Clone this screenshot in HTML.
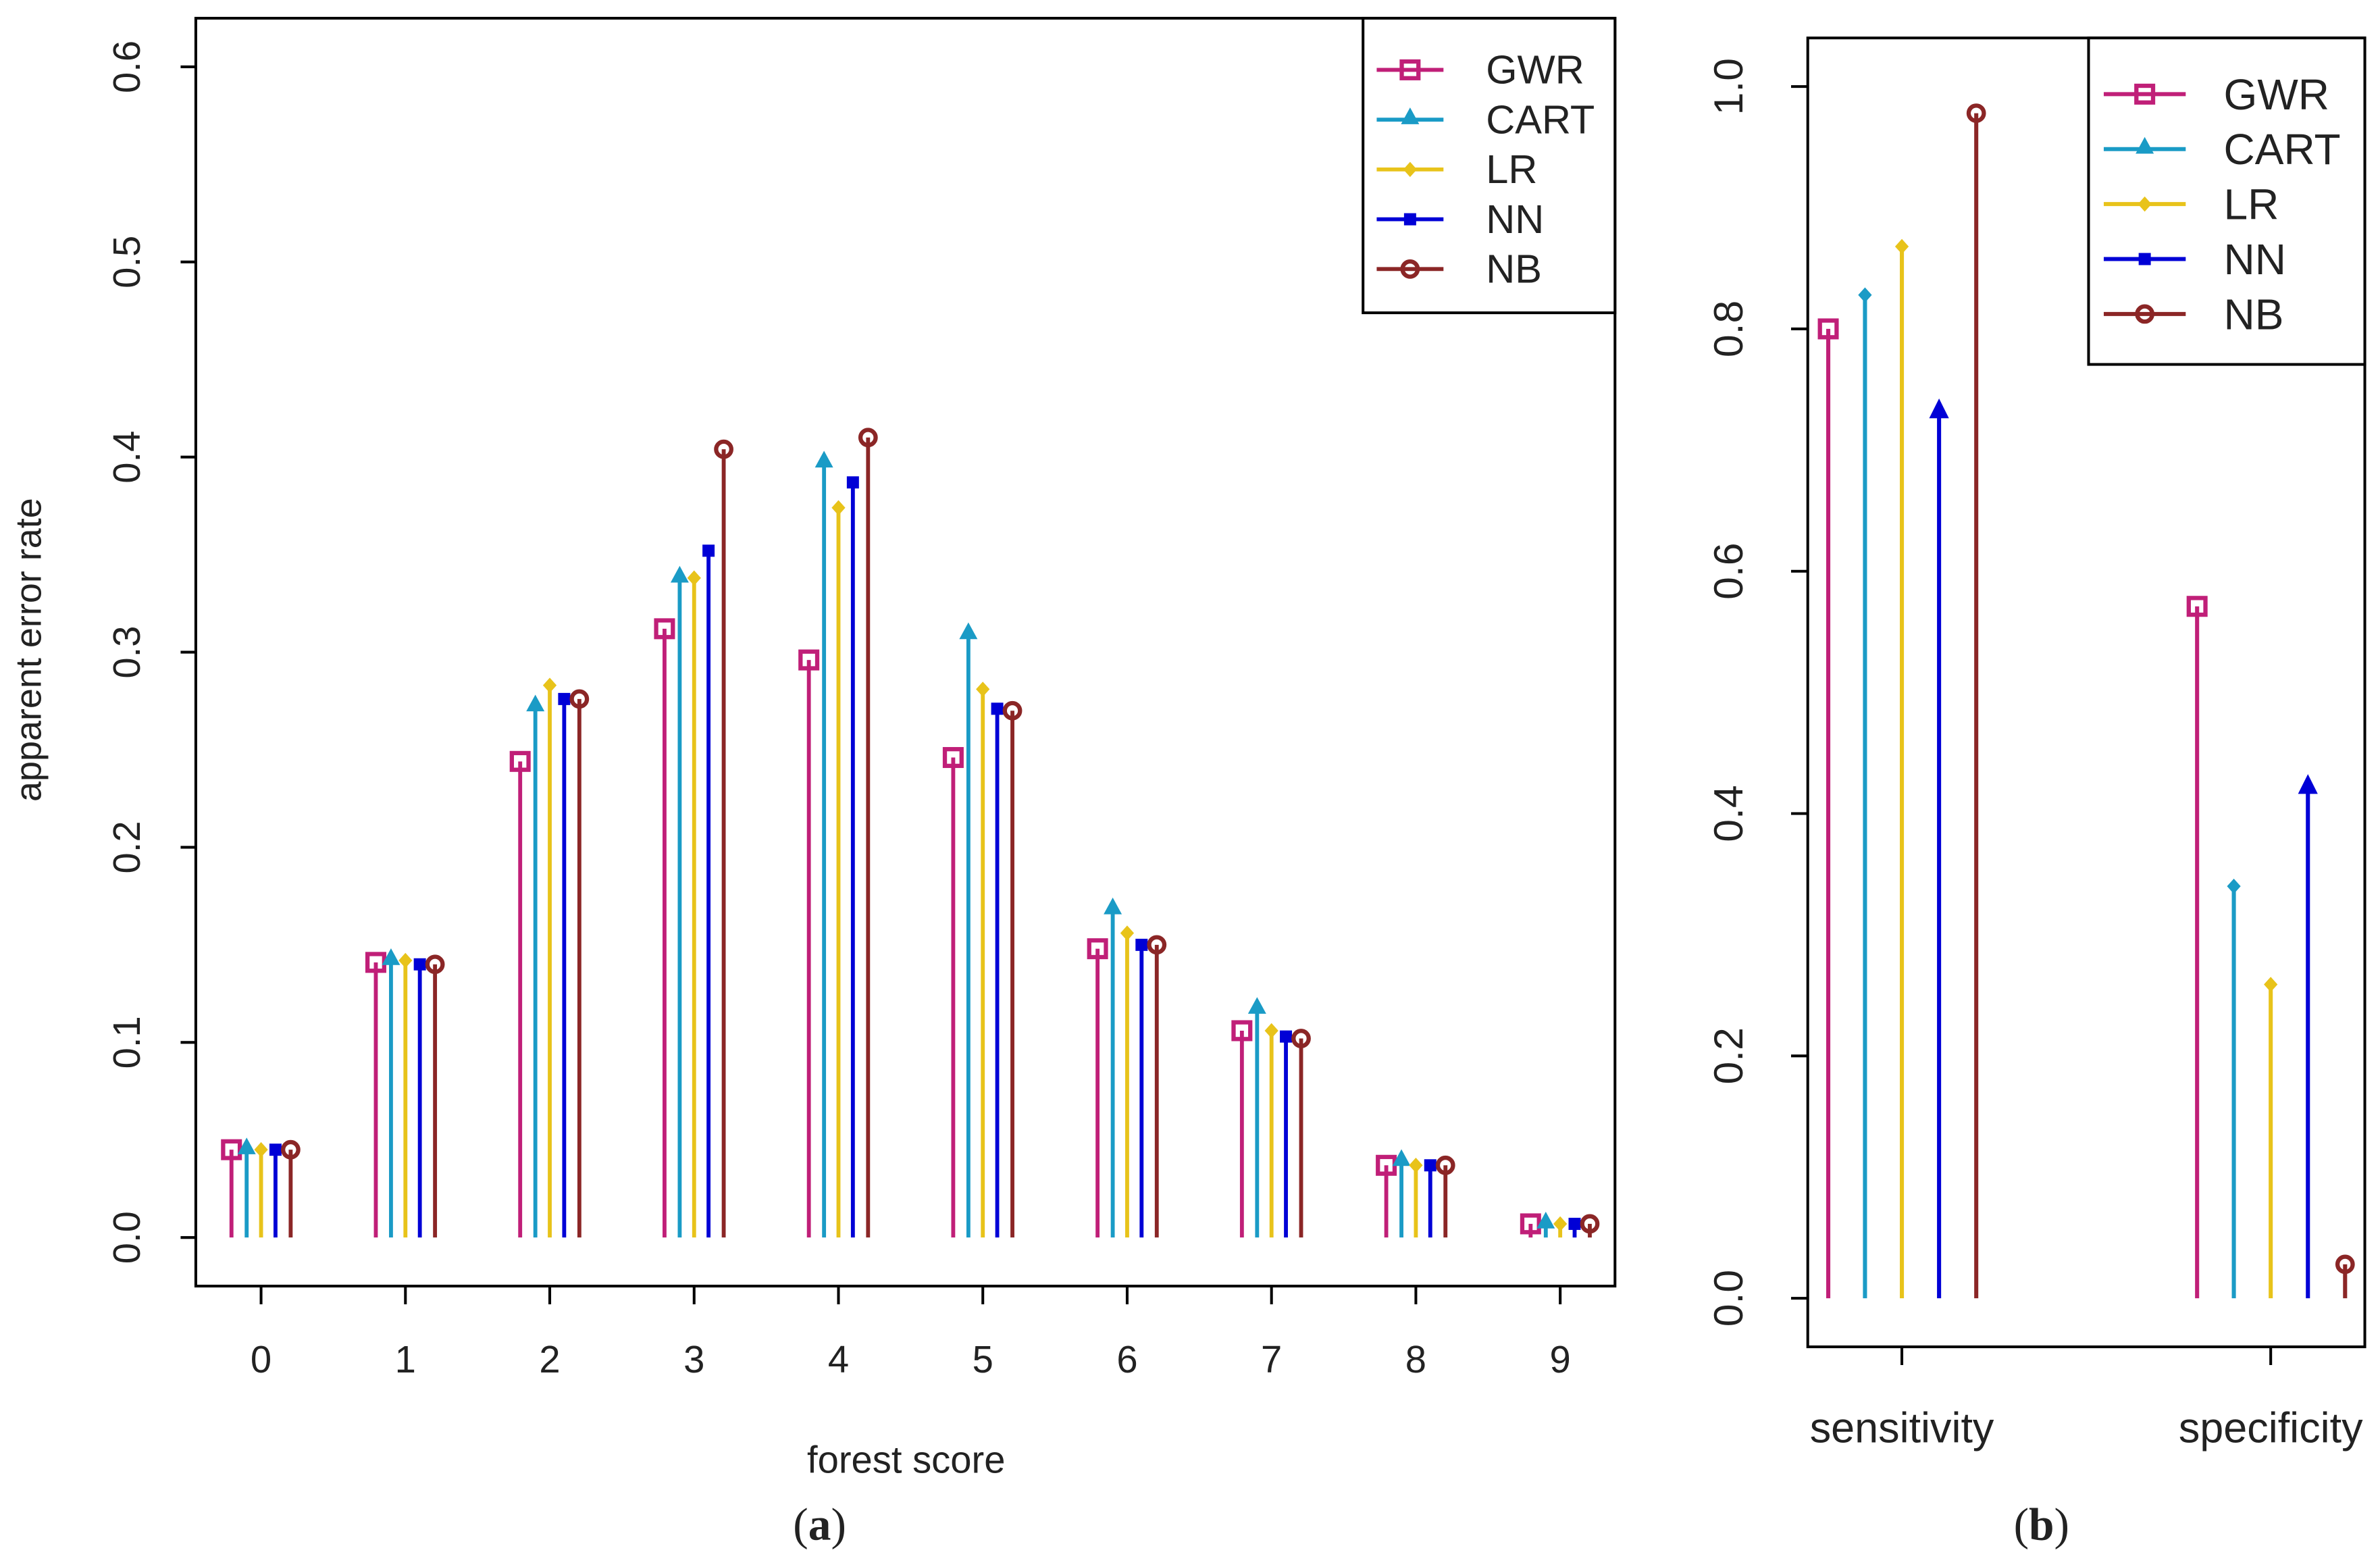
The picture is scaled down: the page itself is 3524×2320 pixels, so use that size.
<!DOCTYPE html>
<html><head><meta charset="utf-8"><style>
html,body{margin:0;padding:0;background:#fff;}
svg{display:block;}
text{font-family:"Liberation Sans",Arial,sans-serif;fill:#222;}
</style></head><body>
<svg id="chart" width="3524" height="2320" viewBox="0 0 1568 1032" preserveAspectRatio="none" xmlns="http://www.w3.org/2000/svg"></svg>
<script>
const seriesNames = ["GWR","CART","LR","NN","NB"];
const seriesColors = ["#c01f78","#1a9bc6","#e8c31a","#0000d6","#8b2626"];
const scoresA = [0,1,2,3,4,5,6,7,8,9];
const gwrA  = [0.045,0.141,0.244,0.312,0.296,0.246,0.148,0.106,0.037,0.007];
const cartA = [0.045,0.142,0.272,0.338,0.397,0.309,0.168,0.117,0.039,0.007];
const lrA   = [0.045,0.142,0.283,0.338,0.374,0.281,0.156,0.106,0.037,0.007];
const nnA   = [0.045,0.140,0.276,0.352,0.387,0.271,0.150,0.103,0.037,0.007];
const nbA   = [0.045,0.140,0.276,0.404,0.410,0.270,0.150,0.102,0.037,0.007];
const ticksA = [0,0.1,0.2,0.3,0.4,0.5,0.6];
const categoriesB = ["sensitivity","specificity"];
const gwrB  = [0.800,0.571];
const cartB = [0.828,0.340];
const lrB   = [0.868,0.259];
const nnB   = [0.730,0.420];
const nbB   = [0.978,0.028];
const ticksB = [0,0.2,0.4,0.6,0.8,1.0];

const NS="http://www.w3.org/2000/svg";
const svg=document.getElementById('chart');
function mk(tag,attrs,parent){const e=document.createElementNS(NS,tag);for(const k in attrs)e.setAttribute(k,attrs[k]);(parent||svg).appendChild(e);return e;}

const xA=v=>172+v*95.1;
const yA=v=>815-v*1285;
const xB=i=>1253+i*243;
const yB=v=>855-v*798;

function marker(g,type,x,y,c){
  let m;
  if(type===0){m=mk('rect',{x:x-5.5,y:y-5.5,width:11,height:11,fill:'none',stroke:c,'stroke-width':2.8},g);}
  else if(type===1){m=mk('polygon',{points:`${x},${y-8} ${x-6},${y+3} ${x+6},${y+3}`,fill:c},g);}
  else if(type===2){m=mk('polygon',{points:`${x},${y-5} ${x+4.5},${y} ${x},${y+5} ${x-4.5},${y}`,fill:c},g);}
  else if(type===3){m=mk('rect',{x:x-4,y:y-4,width:8,height:8,fill:c},g);}
  else if(type===5){m=mk('polygon',{points:`${x},${y-10} ${x-6.5},${y+3} ${x+6.5},${y+3}`,fill:c},g);}
  else {m=mk('circle',{cx:x,cy:y,r:5,fill:'none',stroke:c,'stroke-width':2.8},g);}
  return m;
}

// ---------- Panel A ----------
const gA=mk('g',{});


const frameA=mk('rect',{x:129,y:12,width:935,height:835,fill:'none',stroke:'#000','stroke-width':1.8},gA);


ticksA.forEach(t=>{
  const y=yA(t);
  const l=mk('line',{x1:129,x2:119,y1:y,y2:y,stroke:'#000','stroke-width':1.8},gA);
  
  
  const tx=mk('text',{x:0,y:0,'font-size':25,'text-anchor':'middle',transform:`translate(92,${y}) rotate(-90)`},gA);
  tx.textContent=t.toFixed(1);
  
  
});
scoresA.forEach(s=>{
  const x=xA(s);
  const l=mk('line',{x1:x,x2:x,y1:847,y2:859,stroke:'#000','stroke-width':1.8},gA);
  
  
  const tx=mk('text',{x:x,y:904,'font-size':25,'text-anchor':'middle'},gA);
  tx.textContent=String(s);
  
  
});
const ytA=mk('text',{x:0,y:0,'font-size':24,'text-anchor':'middle',transform:'translate(27,428) rotate(-90)'},gA);
ytA.textContent='apparent error rate';


const xtA=mk('text',{x:597,y:970,'font-size':25,'text-anchor':'middle'},gA);
xtA.textContent='forest score';


const dataA=[gwrA,cartA,lrA,nnA,nbA];
const offA=[-19.5,-9.5,0,9.5,19.5];
dataA.forEach((arr,si)=>{
  const g=mk('g',{},gA);
  
  
  arr.forEach((v,i)=>{
    const x=xA(scoresA[i])+offA[si];
    const ln=mk('line',{x1:x,x2:x,y1:yA(0),y2:yA(v),stroke:seriesColors[si],'stroke-width':2.6},g);
    
    
    const m=marker(g,si===4?4:si,x,yA(v),seriesColors[si]);
    
    
  });
});
const lgA=mk('g',{},gA);


mk('rect',{x:898,y:12,width:166,height:194,fill:'#fff',stroke:'#000','stroke-width':1.8},lgA);
seriesNames.forEach((n,i)=>{
  const y=46+i*32.8;
  const e=mk('g',{},lgA);
  
  
  mk('line',{x1:907,x2:951,y1:y,y2:y,stroke:seriesColors[i],'stroke-width':2.6},e);
  marker(e,i===4?4:i,929,y,seriesColors[i]);
  const t=mk('text',{x:979,y:y+9,'font-size':26.5},e);
  t.textContent=n;
});
const capA=mk('text',{x:540,y:1014,'font-size':30,'text-anchor':'middle',style:'font-family:"Liberation Serif",serif'});
capA.innerHTML='(<tspan font-weight="bold">a</tspan>)';



// ---------- Panel B ----------
const gB=mk('g',{});


const frameB=mk('rect',{x:1191,y:25,width:367,height:862,fill:'none',stroke:'#000','stroke-width':1.8},gB);


ticksB.forEach(t=>{
  const y=yB(t);
  const l=mk('line',{x1:1191,x2:1180,y1:y,y2:y,stroke:'#000','stroke-width':1.8},gB);
  
  
  const tx=mk('text',{x:0,y:0,'font-size':27,'text-anchor':'middle',transform:`translate(1148,${y}) rotate(-90)`},gB);
  tx.textContent=t.toFixed(1);
  
  
});
categoriesB.forEach((c,i)=>{
  const x=xB(i);
  const l=mk('line',{x1:x,x2:x,y1:887,y2:899,stroke:'#000','stroke-width':1.8},gB);
  
  
  const tx=mk('text',{x:x,y:950,'font-size':28,'text-anchor':'middle'},gB);
  tx.textContent=c;
  
  
});
const dataB=[gwrB,cartB,lrB,nnB,nbB];
const offB=[-48.5,-24.3,0,24.5,49];
const mkB=[0,2,2,5,4];
dataB.forEach((arr,si)=>{
  const g=mk('g',{},gB);
  
  
  arr.forEach((v,i)=>{
    const x=xB(i)+offB[si];
    const ln=mk('line',{x1:x,x2:x,y1:yB(0),y2:yB(v),stroke:seriesColors[si],'stroke-width':2.7},g);
    
    
    const m=marker(g,mkB[si],x,yB(v),seriesColors[si]);
    
    
  });
});
const lgB=mk('g',{},gB);


mk('rect',{x:1376,y:25,width:182,height:215,fill:'#fff',stroke:'#000','stroke-width':1.8},lgB);
seriesNames.forEach((n,i)=>{
  const y=62+i*36.2;
  const e=mk('g',{},lgB);
  
  
  mk('line',{x1:1386,x2:1440,y1:y,y2:y,stroke:seriesColors[i],'stroke-width':2.7},e);
  marker(e,i===4?4:i,1413,y,seriesColors[i]);
  const t=mk('text',{x:1465,y:y+10,'font-size':28.5},e);
  t.textContent=n;
});
const capB=mk('text',{x:1345,y:1014,'font-size':30,'text-anchor':'middle',style:'font-family:"Liberation Serif",serif'});
capB.innerHTML='(<tspan font-weight="bold">b</tspan>)';


</script>
</body></html>
